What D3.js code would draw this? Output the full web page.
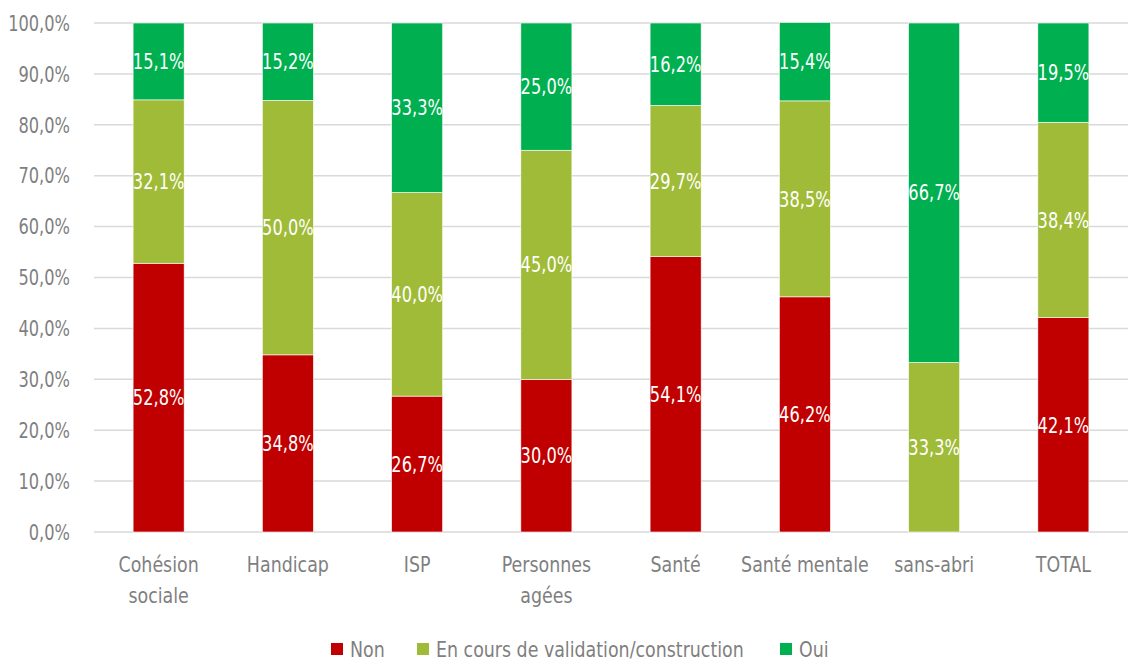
<!DOCTYPE html>
<html>
<head>
<meta charset="utf-8">
<script src="https://cdn.jsdelivr.net/npm/d3@7"></script>
<style>
  body { margin: 0; background: #fff; }
  svg text { font-family: "DejaVu Sans Condensed", "DejaVu Sans", sans-serif; font-stretch: condensed; font-size: 22px; }
</style>
</head>
<body>
<script>
const categories = ['Cohésion\nsociale', 'Handicap', 'ISP', 'Personnes\nagées', 'Santé', 'Santé mentale', 'sans-abri', 'TOTAL'];
const seriesNames = ['Non', 'En cours de validation/construction', 'Oui'];
const nonValues = [52.8, 34.8, 26.7, 30.0, 54.1, 46.2, 0, 42.1];
const enCoursValues = [32.1, 50.0, 40.0, 45.0, 29.7, 38.5, 33.3, 38.4];
const ouiValues = [15.1, 15.2, 33.3, 25.0, 16.2, 15.4, 66.7, 19.5];
const yTicks = [0, 10, 20, 30, 40, 50, 60, 70, 80, 90, 100];
const colors = ['#c00000', '#a0bb38', '#00b050'];

const W = 1128, H = 664;
const margin = {top: 23, right: 0, bottom: 132, left: 94};
const width = W - margin.left - margin.right;
const height = H - margin.top - margin.bottom;
// squeeze text horizontally to mimic the narrow font of the original
const sxNum = 0.82;
const sxTxt = 0.88;
const grey = '#7f7f7f';
const fmt = v => d3.format('.1f')(v).replace('.', ',') + '%';

const data = categories.map((c, i) => ({
    cat: c, Non: nonValues[i], EnCours: enCoursValues[i], Oui: ouiValues[i]
}));
const keys = ['Non', 'EnCours', 'Oui'];

const x = d3.scaleBand()
    .domain(categories)
    .range([0, width])
    .paddingInner(0.605)
    .paddingOuter(0.3025);

const y = d3.scaleLinear()
    .domain([0, 100])
    .range([height, 0]);

const at = (px, py, s) => 'translate(' + px + ',' + py + ') scale(' + s + ',1)';

const svg = d3.select('body').append('svg')
    .attr('width', W)
    .attr('height', H);

const g = svg.append('g')
    .attr('transform', 'translate(' + margin.left + ',' + margin.top + ')');

// gridlines
g.selectAll('.grid')
    .data(yTicks)
    .enter().append('line')
    .attr('x1', 0)
    .attr('x2', width)
    .attr('y1', d => y(d))
    .attr('y2', d => y(d))
    .attr('stroke', '#d9d9d9')
    .attr('stroke-width', 1.5);

// y labels
g.selectAll('.ylab')
    .data(yTicks)
    .enter().append('text')
    .attr('transform', d => at(-24, y(d), sxNum))
    .attr('dy', '0.35em')
    .attr('text-anchor', 'end')
    .attr('fill', grey)
    .text(d => fmt(d));

const stacked = d3.stack().keys(keys)(data);

const layer = g.selectAll('.layer')
    .data(stacked)
    .enter().append('g')
    .attr('fill', (d, i) => colors[i]);

layer.selectAll('rect')
    .data(d => d)
    .enter().append('rect')
    .attr('x', d => x(d.data.cat))
    .attr('width', x.bandwidth())
    .attr('y', d => y(d[1]))
    .attr('height', d => y(d[0]) - y(d[1]))
    .attr('stroke', '#fff')
    .attr('stroke-width', 0.6);

layer.selectAll('.lab')
    .data(d => d.filter(p => p[1] - p[0] > 0))
    .enter().append('text')
    .attr('transform', d => at(x(d.data.cat) + x.bandwidth() / 2, y((d[0] + d[1]) / 2), sxNum))
    .attr('dy', '0.35em')
    .attr('text-anchor', 'middle')
    .attr('fill', '#fff')
    .text(d => fmt(d[1] - d[0]));

// x labels
const xl = g.selectAll('.xlab')
    .data(categories)
    .enter().append('text')
    .attr('transform', d => at(x(d) + x.bandwidth() / 2, height + 40, sxTxt))
    .attr('text-anchor', 'middle')
    .attr('fill', grey);

xl.selectAll('tspan')
    .data(d => d.split('\n'))
    .enter().append('tspan')
    .attr('x', 0)
    .attr('dy', (d, i) => i === 0 ? 0 : 31)
    .text(d => d);

// legend
const legendX = [331, 417, 780];
const legend = svg.selectAll('.legend')
    .data(seriesNames)
    .enter().append('g')
    .attr('transform', (d, i) => 'translate(' + legendX[i] + ',643)');

legend.append('rect')
    .attr('width', 12)
    .attr('height', 12)
    .attr('fill', (d, i) => colors[i]);

legend.append('text')
    .attr('transform', at(19, 6.5, sxTxt))
    .attr('dy', '0.35em')
    .attr('fill', grey)
    .text(d => d);
</script>
</body>
</html>
